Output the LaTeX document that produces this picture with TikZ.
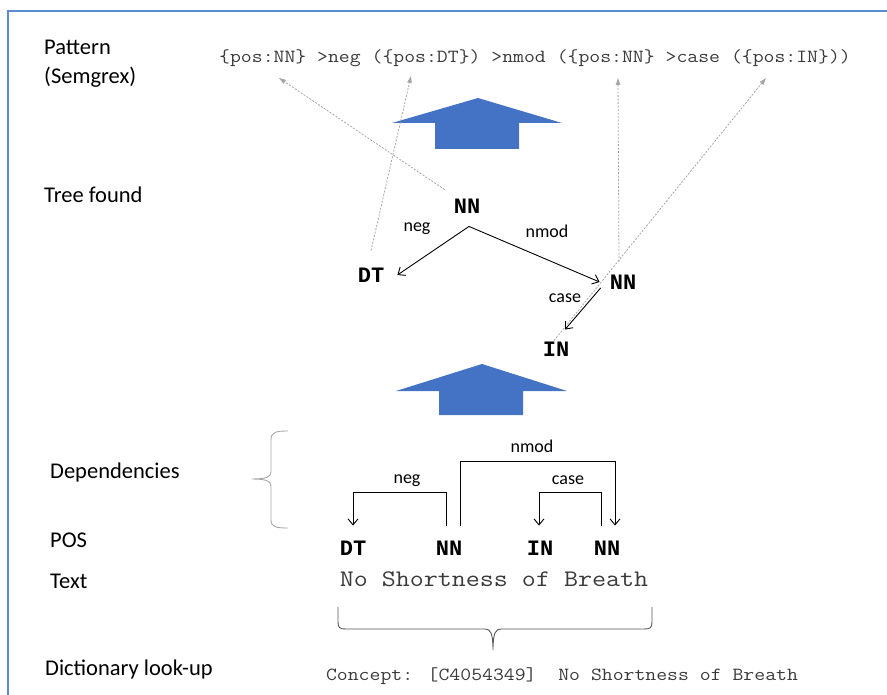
\documentclass[tikz,border=0pt]{standalone}
\usepackage{fontspec}
\setmainfont{Carlito}
\newfontfamily\monof{Liberation Mono}
\newfontfamily\courf[FakeStretch=1.143]{Latin Modern Mono}
\usetikzlibrary{arrows.meta}
\definecolor{frameblue}{HTML}{5B8BD0}
\definecolor{arrowblue}{HTML}{4472C4}
\definecolor{guide}{HTML}{A6A6A6}
\definecolor{monogray}{HTML}{3A3A3A}
\definecolor{bracegray}{HTML}{595959}
\definecolor{bracelight}{HTML}{A6A6A6}
\begin{document}
\begin{tikzpicture}[x=1pt,y=-1pt,
  lbl/.style={font=\fontsize{22.5}{27}\selectfont, anchor=base west, inner sep=0pt},
  tag/.style={font=\monof\bfseries\fontsize{22}{26}\selectfont, inner sep=0pt},
  treetag/.style={tag, inner sep=9pt},
  rel/.style={font=\fontsize{18}{22}\selectfont, inner sep=0pt},
  mono/.style={font=\courf\fontsize{18.5}{22}\selectfont, inner sep=0pt, text=monogray},
  edge/.style={draw=black, line width=0.9pt, -{Straight Barb[length=6pt,width=10pt]}},
  guideline/.style={draw=guide, line width=0.8pt, dash pattern=on 2pt off 1.5pt, -{Triangle[length=7pt,width=4.5pt]}},
  bigarrow/.style={fill=arrowblue, draw=none}]

\useasboundingbox (0,0) rectangle (887,695);

% frame
\draw[frameblue, line width=1.6pt] (8,700) -- (8,11) -- (890,11);

% left labels
\node[lbl] (lpat) at (44,55) {Pattern};
\node[lbl] (lsem) at (44,84) {(Semgrex)};
\node[lbl] (ltree) at (44,203) {Tree found};
\node[lbl] (ldep) at (50,478) {Dependencies};
\node[lbl] (lpos) at (50,547) {POS};
\node[lbl] (ltext) at (50,588) {Text};
\node[lbl] (ldict) at (45,675) {Dictionary look-up};

% pattern
\node[mono, anchor=base] (pattern) at (535,63) {\{pos:NN\} >neg (\{pos:DT\}) >nmod (\{pos:NN\} >case (\{pos:IN\}))};
\coordinate (p1) at (279,78);
\coordinate (p2) at (411,76);
\coordinate (p3) at (618,78);
\coordinate (p4) at (766,78);

% big arrows
\fill[bigarrow] (478,98) -- (562,123) -- (519,123) -- (519,149) -- (435,149) -- (435,123) -- (392,123) -- cycle;
\fill[bigarrow] (482,364) -- (567,391) -- (523,391) -- (523,415) -- (439,415) -- (439,391) -- (396,391) -- cycle;

% tree
\node[treetag] (tNN) at (467,206) {NN};
\node[treetag] (tDT) at (371,275) {DT};
\node[treetag] (tNN2) at (623,282) {NN};
\node[treetag] (tIN) at (556,349) {IN};

\draw[guideline] (tNN.north west) -- (p1);
\draw[guideline] ([yshift=8pt]tDT.north) -- (p2);
\draw[guideline] ([xshift=-4pt,yshift=4pt]tNN2.north) -- (p3);
\draw[guideline] ([xshift=-2pt,yshift=-8pt]tIN.north) -- (p4);

\draw[edge] ([xshift=2pt,yshift=-4pt]tNN.south) -- ([xshift=4pt]tDT.east);
\draw[edge] ([xshift=2pt,yshift=-4pt]tNN.south) -- ([xshift=-1pt]tNN2.west);
\draw[edge] ([yshift=-6pt]tNN2.west) -- ([xshift=9pt,yshift=3pt]tIN.north);

\node[rel] (rneg) at (417,229) {neg};
\node[rel] (rnmod) at (547,231) {nmod};
\node[rel] (rcase) at (565,298) {case};

% dependencies
\node[tag] (dDT) at (353,548) {DT};
\node[tag] (dNN1) at (449,548) {NN};
\node[tag] (dIN) at (540,548) {IN};
\node[tag] (dNN2) at (607,548) {NN};

\draw[edge] (dNN1.north) ++(-3,-15) -- ++(0,-33) -| ([yshift=15pt]dDT.north);
\draw[edge] (dNN1.north) ++(11,-15) -- ++(0,-64) -| ([xshift=8pt,yshift=15pt]dNN2.north);
\draw[edge] (dNN2.north) ++(-6,-15) -- ++(0,-33) -| ([xshift=-1pt,yshift=15pt]dIN.north);

\node[rel] (dneg) at (407,481) {neg};
\node[rel] (dnmod) at (532,446) {nmod};
\node[rel] (dcase) at (568,480) {case};

% dependency brace
\draw[bracelight, line width=0.9pt] (288,431) .. controls (276,431) and (271,432) .. (271,440)
  -- (271,472) .. controls (271,477) and (266,479) .. (252,479)
  .. controls (266,479) and (271,481) .. (271,486)
  -- (271,520) .. controls (271,527) and (276,528) .. (288,528);

% text
\node[mono, font=\courf\fontsize{23.8}{28}\selectfont, anchor=base] (sent) at (494,586) {No Shortness of Breath};

% bottom brace
\draw[bracegray, line width=0.9pt] (338,607) -- (338,622) .. controls (338,628) and (340,629) .. (346,629)
  -- (485,629) .. controls (490,629) and (493,632) .. (493,650)
  .. controls (493,632) and (496,629) .. (501,629)
  -- (644,629) .. controls (650,629) and (652,628) .. (652,622) -- (652,607);

\node[mono, anchor=base] (concept) at (562,680) {Concept: [C4054349]\ \ No Shortness of Breath};

\end{tikzpicture}
\end{document}
